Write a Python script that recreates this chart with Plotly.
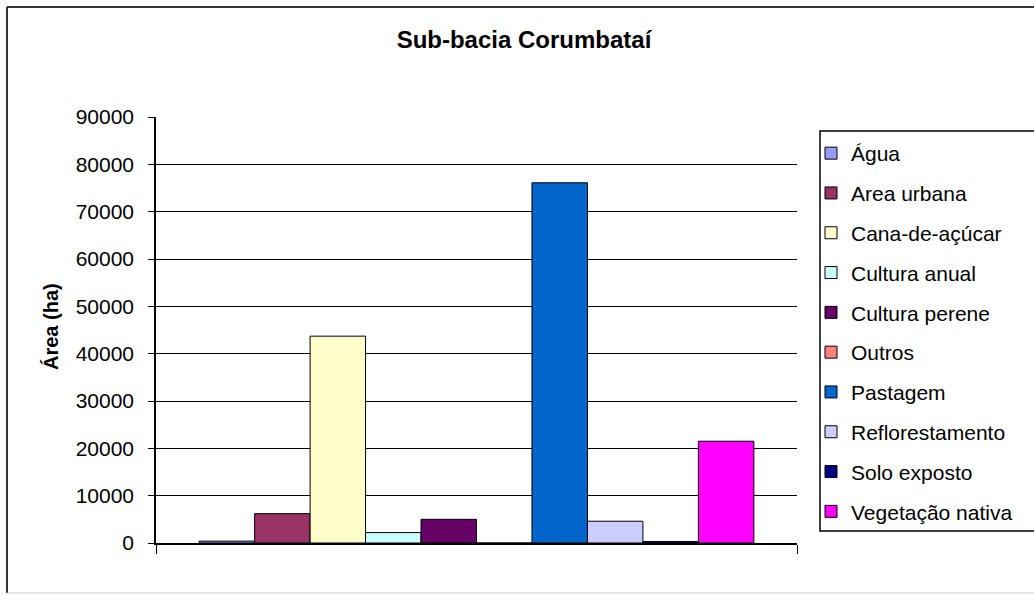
import plotly.graph_objects as go

# ---- data ----
category = ["Sub-bacia Corumbataí"]
series_names = ["Água", "Area urbana", "Cana-de-açúcar", "Cultura anual", "Cultura perene",
                "Outros", "Pastagem", "Reflorestamento", "Solo exposto", "Vegetação nativa"]
series_values = [400, 6200, 43700, 2200, 5000, 0, 76100, 4600, 300, 21500]
series_colors = ["#9999FF", "#993366", "#FFFFCC", "#CCFFFF", "#660066",
                 "#FF8080", "#0066CC", "#CCCCFF", "#000080", "#FF00FF"]
y_ticks = [0, 10000, 20000, 30000, 40000, 50000, 60000, 70000, 80000, 90000]

W, H = 1034, 595
L, R, T, B = 156, 797, 117, 543
FONT = "Liberation Sans, Arial, sans-serif"

def px(x):
    return (x - L) / (R - L)

def py(y):
    return (B - y) / (B - T)

fig = go.Figure()
for name, val, col in zip(series_names, series_values, series_colors):
    fig.add_trace(go.Bar(
        x=category, y=[val], name=name, legendgroup=name,
        marker=dict(color=col, line=dict(color="#000000", width=1)),
    ))

shapes = [
    # outer chart border
    dict(type="line", xref="paper", yref="paper", x0=px(7), x1=px(7), y0=py(7), y1=py(593),
         line=dict(color="#333333", width=2)),
    dict(type="line", xref="paper", yref="paper", x0=px(7), x1=px(1040), y0=py(7), y1=py(7),
         line=dict(color="#333333", width=2)),
    dict(type="line", xref="paper", yref="paper", x0=px(7), x1=px(1040), y0=py(593), y1=py(593),
         line=dict(color="#CCCCCC", width=1)),
    # legend border
    dict(type="rect", xref="paper", yref="paper", x0=px(820), x1=px(1040), y0=py(131), y1=py(531),
         line=dict(color="#000000", width=1.5), fillcolor="rgba(0,0,0,0)"),
]

fig.update_layout(
    width=W, height=H,
    margin=dict(l=L, r=W - R, t=T, b=H - B, pad=0),
    paper_bgcolor="white", plot_bgcolor="white",
    font=dict(family=FONT, size=21, color="#000000"),
    barmode="group", bargap=0.1346, bargroupgap=0,
    title=dict(text="<b>Sub-bacia Corumbataí</b>", x=524 / W, xanchor="center",
               y=1 - 40 / H, yanchor="middle", yref="container",
               font=dict(family=FONT, size=24, color="#000000")),
    xaxis=dict(type="category", range=[-0.5, 0.5], showticklabels=False,
               showline=True, linecolor="#000000", linewidth=1.5,
               ticks="outside", tickson="boundaries", ticklen=9, tickcolor="#000000",
               showgrid=False, zeroline=False, fixedrange=True),
    yaxis=dict(range=[0, 90000], tickvals=y_ticks, ticktext=[str(v) for v in y_ticks],
               showline=True, linecolor="#000000", linewidth=1.5,
               ticks="outside", ticklen=6, tickcolor="#000000", ticklabelstandoff=10,
               showgrid=True, gridcolor="#000000", gridwidth=1, zeroline=False,
               tickfont=dict(family=FONT, size=21, color="#000000"), fixedrange=True),
    legend=dict(x=px(811), y=py(133), xanchor="left", yanchor="top",
                traceorder="grouped", tracegroupgap=9.5,
                bgcolor="rgba(0,0,0,0)", borderwidth=0,
                font=dict(family=FONT, size=21, color="#000000")),
    shapes=shapes,
    annotations=[dict(text="<b>Área (ha)</b>", textangle=-90, xref="paper", yref="paper",
                      x=px(51), y=py(327), xanchor="center", yanchor="middle",
                      showarrow=False, font=dict(family=FONT, size=20, color="#000000"))],
    showlegend=True,
)

fig.write_html("out.html")
